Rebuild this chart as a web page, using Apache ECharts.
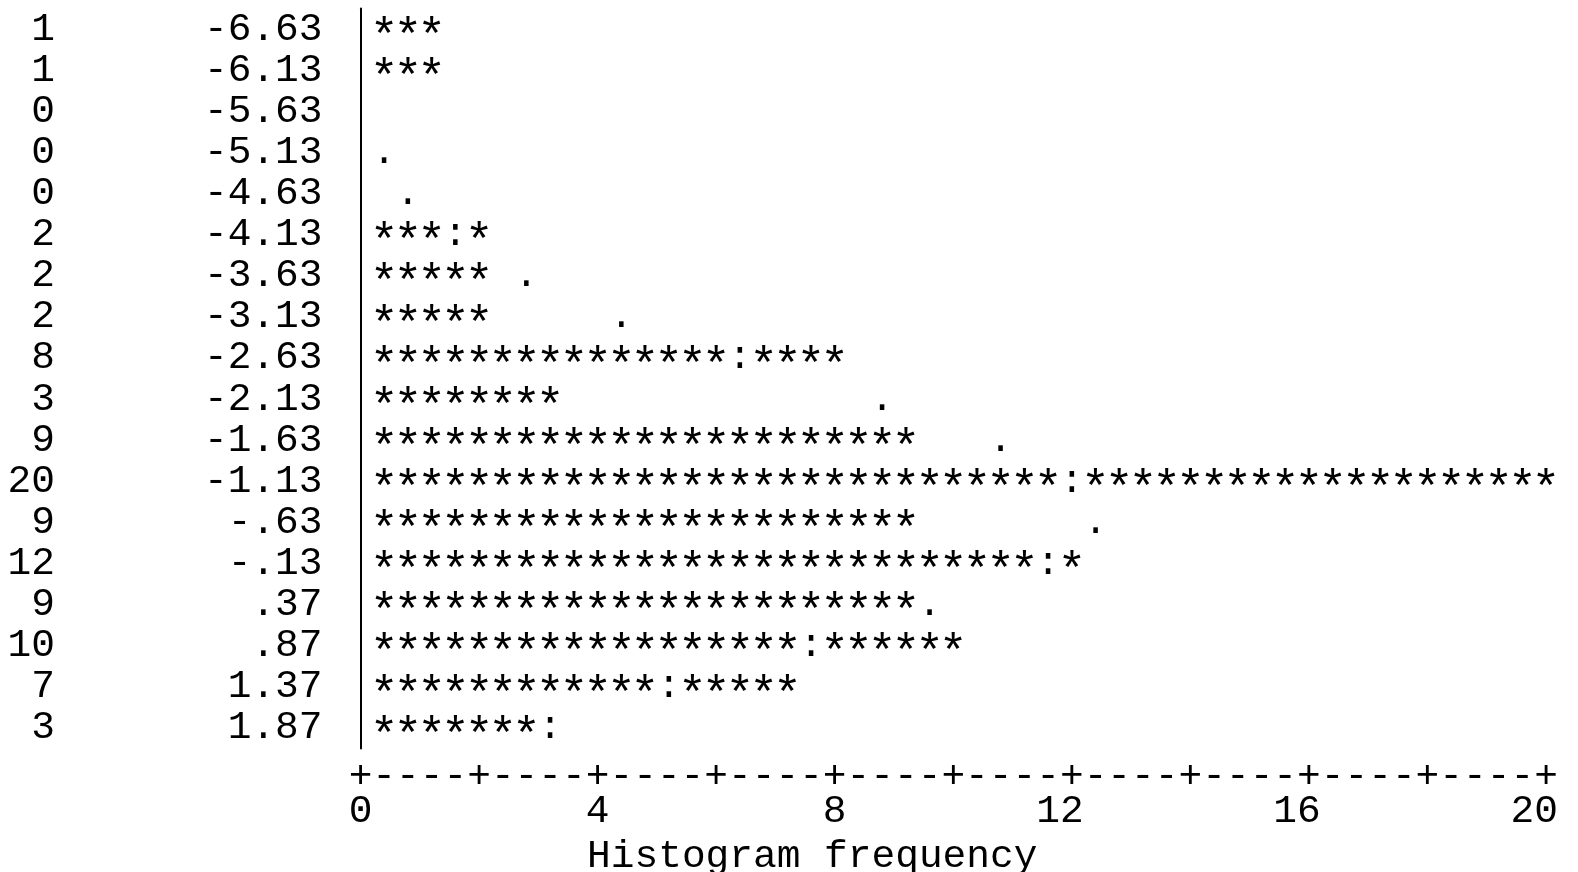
<!DOCTYPE html>
<html>
<head>
<meta charset="utf-8">
<script src="https://cdn.jsdelivr.net/npm/echarts@6/dist/echarts.min.js"></script>
<style>
  html, body { margin: 0; padding: 0; background: #fff; }
  #chart { width: 1578px; height: 872px; }
</style>
</head>
<body>
<div id="chart"></div>
<script>
// ---- data ----
const midpoints = ['-6.63', '-6.13', '-5.63', '-5.13', '-4.63', '-4.13', '-3.63', '-3.13', '-2.63',
                   '-2.13', '-1.63', '-1.13', '-.63', '-.13', '.37', '.87', '1.37', '1.87'];
const counts = [1, 1, 0, 0, 0, 2, 2, 2, 8, 3, 9, 20, 9, 12, 9, 10, 7, 3];
// expected frequency of the fitted normal curve (marked with '.' or ':')
const expected = [0, 0, 0, 0.4, 0.8, 1.6, 2.8, 4.4, 6.4, 8.8, 10.8, 12.0, 12.4, 11.6, 9.6, 7.6, 5.2, 3.2];
const xTickLabels = [0, 4, 8, 12, 16, 20];

// ---- style constants ----
const FONT = 'Liberation Mono';
const FS = 39.5;          // monospace cell = 0.6 * FS = 23.7px
const STAR_FS = 48;       // asterisks drawn a little larger, like the printout
const STAR_DY = 9;        // lower asterisks onto the text line
const PER_CHAR = 0.4;     // one printed character = 0.4 frequency units
const INK = '#000';

const chart = echarts.init(document.getElementById('chart'), null, { renderer: 'canvas' });

const rowData = midpoints.map((m, i) => [counts[i], i, expected[i]]);

function renderRow(params, api) {
  const count = api.value(0);
  const row = api.value(1);
  const exp = api.value(2);
  const n = Math.round(count / PER_CHAR + 1e-9);
  const k = Math.round(exp / PER_CHAR + 1e-9);
  const children = [];
  const mk = (ch, idx) => {
    const p = api.coord([idx * PER_CHAR, row]);
    const star = ch === '*';
    children.push({
      type: 'text', x: p[0], y: p[1] + (star ? STAR_DY : 0),
      style: { text: ch, fill: INK, fontFamily: FONT, fontSize: star ? STAR_FS : FS,
               align: 'center', verticalAlign: 'middle' }
    });
  };
  for (let i = 1; i <= n; i++) mk(i === k ? ':' : '*', i);
  if (k > n) mk('.', k);
  return { type: 'group', children };
}

const lbl = { fontFamily: FONT, fontSize: FS, color: INK };

chart.setOption({
  animation: false,
  backgroundColor: '#fff',
  grid: { left: 360.5, right: 32, top: 8.5, bottom: 123.5, outerBoundsMode: 'none', containLabel: false },
  xAxis: [
    {
      type: 'value', min: 0, max: 20, interval: 0.4, position: 'bottom',
      axisLine: { show: false }, axisTick: { show: false }, splitLine: { show: false },
      axisLabel: Object.assign({}, lbl, {
        margin: 8, hideOverlap: false, showMinLabel: true, showMaxLabel: true,
        formatter: v => (Math.round(v / PER_CHAR) % 5 === 0 ? '+' : '-')
      })
    },
    {
      type: 'value', min: 0, max: 20, interval: 4, position: 'bottom', offset: 37,
      axisLine: { show: false }, axisTick: { show: false }, splitLine: { show: false },
      axisLabel: Object.assign({}, lbl, {
        margin: 6, showMinLabel: true, showMaxLabel: true,
        formatter: v => { const s = String(v); return xTickLabels.indexOf(v) >= 0 ? s + ' '.repeat(s.length - 1) : ''; }
      }),
      name: 'Histogram frequency', nameLocation: 'middle', nameGap: 44,
      nameTextStyle: Object.assign({}, lbl, { padding: [0, 282, 0, 0] })
    }
  ],
  yAxis: [
    {
      type: 'category', inverse: true, data: midpoints,
      axisLine: { show: true, lineStyle: { color: INK, width: 2 } },
      axisTick: { show: false }, splitLine: { show: false },
      axisLabel: Object.assign({}, lbl, { margin: 38, interval: 0 })
    },
    {
      type: 'category', inverse: true, data: counts.map(String), position: 'left', offset: 297.5,
      axisLine: { show: false }, axisTick: { show: false }, splitLine: { show: false },
      axisLabel: Object.assign({}, lbl, { margin: 8, interval: 0 })
    }
  ],
  series: [
    {
      type: 'custom', name: 'Histogram', coordinateSystem: 'cartesian2d',
      xAxisIndex: 0, yAxisIndex: 0, clip: false,
      encode: { x: 0, y: 1 },
      data: rowData,
      renderItem: renderRow
    }
  ]
});
</script>
</body>
</html>
